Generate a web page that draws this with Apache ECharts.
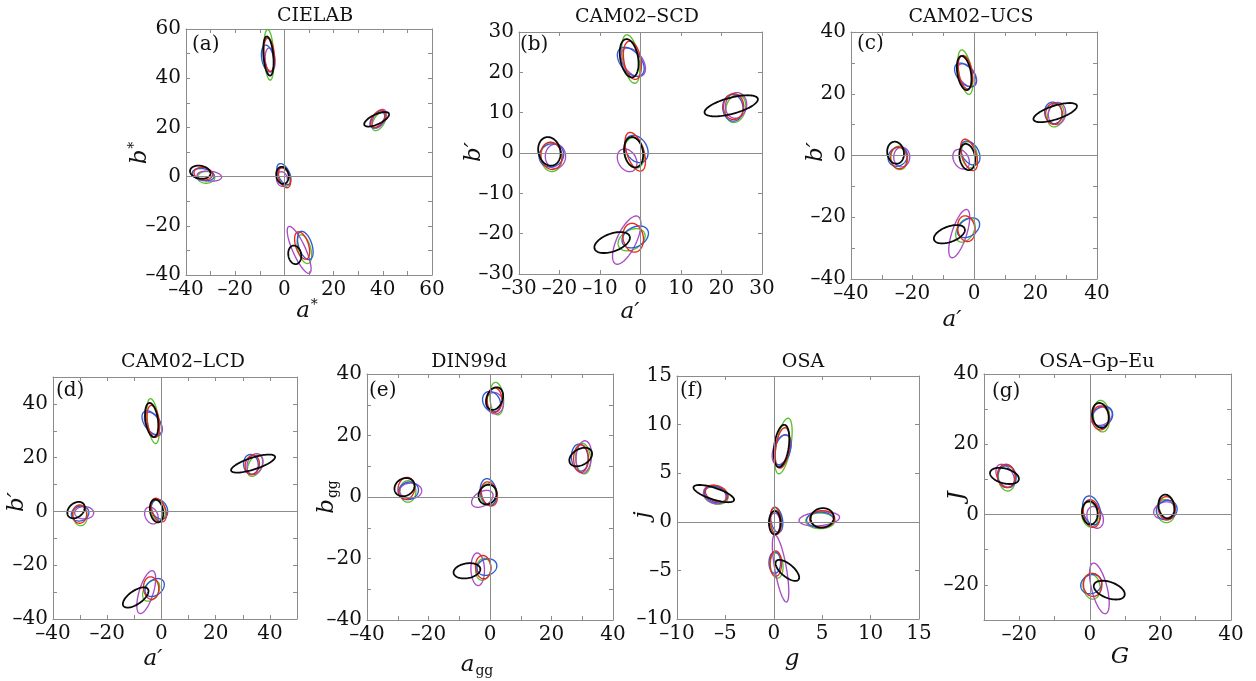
<!DOCTYPE html>
<html><head><meta charset="utf-8">
<script src="https://cdn.jsdelivr.net/npm/echarts@6/dist/echarts.min.js"></script>
<style>html,body{margin:0;padding:0;background:#fff}#c{width:1256px;height:681px}</style>
</head><body><div id="c"></div>
<script>
// Ellipse rows: [centre x, centre y, semi-major, semi-minor, angle of major axis in degrees]
// Colour groups: order of centres = top, right, left, middle, bottom
const a_black   = [[-6.5,49,8,2,95],[37.5,23.3,5.5,2.0,25],[-34.2,1.8,4.2,2.6,-10],[-0.8,0.5,3.5,2.5,100],[4.2,-31.8,3.8,2.6,100]];
const a_green   = [[-6.3,49.5,10.3,2,93],[38.5,22.5,4.2,2.2,60],[-31.8,-0.3,3.5,2.4,0],[0,0,4,2.2,105],[8.1,-29.5,6,2.6,105]];
const a_blue    = [[-6.8,48,5.5,2.4,100],[37.8,23,3.8,2.3,50],[-33,0.8,4.5,2.4,-10],[-0.2,1,4.6,2.3,115],[8.5,-28,6,2.7,108]];
const a_red     = [[-6.2,49.5,6.8,2.1,95],[38,23.5,4,2.2,55],[-33,1.2,3.8,2.5,-10],[0,-0.5,4.2,2.2,110],[7.2,-28,5.8,2.6,108]];
const a_magenta = [[-5.8,47.5,4.8,2.0,95],[38.5,23.5,4.2,2.3,60],[-30.5,0.2,5,2,-5],[-1,-1,3,2.2,100],[6,-29.8,10.4,2.6,114]];

const b_black   = [[-2.8,23.5,4.8,2.2,100],[22.4,11.7,6.8,2.0,15],[-22.5,0.4,3.6,2.7,105],[-1.7,0.2,3.8,2.3,100],[-7,-22.2,4.6,2.2,20]];
const b_green   = [[-2.4,23.3,6.1,2.0,100],[23.5,11,3.5,2.4,75],[-22,-1,3.6,2.6,95],[-1.5,0,3.8,2.4,100],[-2.2,-21.5,3.6,2.4,30]];
const b_blue    = [[-2.4,22.6,4.2,2.5,130],[22.8,11.2,3.3,2.5,95],[-22,-0.6,3.1,2.8,30],[-1,1,3.6,2.6,120],[-1.3,-20.8,3.5,2.4,30]];
const b_red     = [[-2,23,4.8,2.1,100],[23,11.5,3.2,2.5,90],[-22,-0.7,3.4,2.6,100],[-1.3,0.3,5,2.1,108],[-1.8,-21,3.6,2.5,100]];
const b_magenta = [[-1.8,22.5,4,2.4,125],[23.6,11.8,3.2,2.6,80],[-21,-0.8,3,2.5,90],[-3.3,-1.8,3,2.2,120],[-3.4,-21.6,6.5,2.4,65]];

const c_black   = [[-3.2,26.7,5.6,2.2,100],[26.4,13.9,7.4,2.2,18],[-25.5,0.9,3.6,2.7,100],[-2.2,-0.5,4.3,2.5,100],[-8,-25.5,5.3,2.5,20]];
const c_green   = [[-2.8,27,7.3,2.1,100],[26.6,13,3.8,2.6,75],[-24.3,-0.8,3.8,2.7,95],[-1.5,0.2,4.3,2.5,100],[-2.8,-24.2,4.2,2.7,60]];
const c_blue    = [[-2.8,26.1,4.5,2.6,130],[25.8,13.8,3.5,2.8,100],[-24.8,-0.4,3.3,2.9,40],[-1.2,0.8,4.2,2.7,120],[-1.8,-23.4,4,2.7,35]];
const c_red     = [[-2.8,27,5.5,2.2,100],[26,13.5,3.4,2.7,90],[-24.5,-0.8,3.5,2.7,100],[-1.6,0.2,5.3,2.3,108],[-2.5,-23.7,4.2,2.8,100]];
const c_magenta = [[-2.3,26,4.2,2.5,125],[27,13.6,3.6,2.8,80],[-23.5,-0.5,3.2,2.6,90],[-4.2,-1.2,3.4,2.4,120],[-4.8,-25.3,8.2,2.4,72]];

const d_black   = [[-3.6,34,6.4,2.3,98],[33.8,17.8,8.5,2.2,18],[-31.5,0.5,3.6,2.6,40],[-1.8,0.2,4.3,2.4,100],[-9.5,-32,5.5,2.5,35]];
const d_green   = [[-3.1,33.6,8.4,2.1,97],[34.5,17,4.2,2.4,65],[-30,-1.5,3.8,2.6,95],[-1.2,0.3,4,2.6,100],[-3.8,-29.5,4.2,2.7,60]];
const d_blue    = [[-3.5,33,5,2.8,125],[33,17.5,3.7,2.7,95],[-30,-0.8,3.3,2.7,20],[-0.7,0.8,3.8,2.8,115],[-2.5,-28.3,4,2.8,40]];
const d_red     = [[-3,33.5,6,2.2,98],[33.5,17.3,3.6,2.6,80],[-30.2,-1,3.4,2.6,90],[-1,0.5,4.6,2.5,110],[-3.8,-28.5,4.2,2.8,95]];
const d_magenta = [[-3,32.5,4.8,2.6,120],[34.5,17.6,4,2.8,70],[-28.5,-0.5,3.5,2.3,0],[-3.7,-1.5,3.3,2.3,115],[-5.6,-30,8.3,2.6,73]];

const e_black   = [[1.5,32,3.8,2.6,70],[29.5,13,4,2.6,30],[-27.8,3.2,3.4,2.8,30],[-0.8,0.8,3.3,2.8,60],[-7.5,-24,4.4,2.4,10]];
const e_green   = [[2.2,32,5.3,2.2,95],[30.3,12.5,5,2.4,95],[-26.7,1.8,3.5,2.6,90],[-0.5,0.8,3.5,2.6,100],[-2.2,-23.5,3.6,2.4,80]];
const e_blue    = [[0.5,31,3.5,2.7,120],[29.2,12.8,4.4,2.7,95],[-26.5,2,3.3,2.8,20],[-0.5,1.6,4.4,2.6,100],[-1,-22.8,3.3,2.6,20]];
const e_red     = [[1.5,31.5,4,2.4,90],[29.6,12.5,4.5,2.4,90],[-27.2,2.8,3.6,2.7,80],[-0.2,1,4,2.5,105],[-2.2,-22.8,3.8,2.5,95]];
const e_magenta = [[1.5,30.5,3.5,2.8,100],[30.5,13,5.3,2.5,85],[-25.8,2,3.6,2.5,0],[-2.5,-0.6,3.8,2.3,30],[-4,-23.5,5.3,2.2,92]];

const f_black   = [[0.8,7.8,2.2,0.75,82],[5,0.4,1.2,1.0,10],[-6.2,2.9,2.2,0.6,-18],[0.1,-0.1,1.2,0.6,90],[1.4,-5,1.5,0.65,-40]];
const f_green   = [[1,7.8,2.9,0.75,80],[4.8,0.1,1.5,0.8,0],[-6,2.7,1.3,0.85,-15],[0.2,0,1.2,0.6,90],[0.3,-4.5,1.3,0.65,95]];
const f_blue    = [[0.9,7.4,1.6,0.8,75],[4.8,0.2,1.4,0.8,0],[-6,2.8,1.2,0.8,-20],[0.3,0.2,1.3,0.6,100],[0.1,-4.2,1.1,0.6,90]];
const f_red     = [[0.9,7.6,2.1,0.7,82],[5,0.3,1.3,0.85,0],[-5.9,2.9,1.2,0.8,-20],[0.2,0.1,1.4,0.55,95],[0.2,-4.3,1.3,0.6,90]];
const f_magenta = [[0.8,7.4,1.6,0.85,70],[4.7,0.3,2.1,0.7,5],[-6.1,2.8,1.2,0.9,-25],[0.1,-0.2,1.1,0.55,90],[0.7,-4.8,3.5,0.6,100]];

const g_black   = [[3,28.2,3.6,2.3,100],[21.7,2.3,3.4,2.2,100],[-24.2,11,4.2,2.1,-15],[0,0.5,3.3,2.2,95],[5.5,-21.5,4.6,2.3,-20]];
const g_green   = [[3.3,28,4.5,2.3,95],[21.5,1,3.3,2.6,100],[-23.5,10.5,3.8,2.4,95],[0,0,3.6,2.3,100],[0.5,-20.5,3.6,2.4,100]];
const g_blue    = [[3.6,28,3.1,2.6,45],[21.8,1.3,3,2.7,30],[-23.5,10.8,3.1,2.6,100],[0.5,1.2,4.2,2.4,105],[0.4,-19.8,3.1,2.6,30]];
const g_red     = [[3,27.5,3.4,2.4,90],[21.8,1.8,3.3,2.4,95],[-23.7,11,3.3,2.5,95],[0.5,0.3,4,2.3,100],[0.8,-20,3.3,2.6,95]];
const g_magenta = [[3.3,28,3.2,2.4,30],[21.2,1.2,3.2,2.3,20],[-24,11,3.6,2.2,120],[1.5,-0.8,3.2,2.2,110],[2.7,-21,7.4,2.2,104]];

// Titles, tags and axis ranges
const titles = ['CIELAB','CAM02\u2013SCD','CAM02\u2013UCS','CAM02\u2013LCD','DIN99d','OSA','OSA\u2013Gp\u2013Eu'];
const tags   = ['(a)','(b)','(c)','(d)','(e)','(f)','(g)'];
const xRanges = [[-40,60],[-30,30],[-40,40],[-40,50],[-40,40],[-10,15],[-30,40]];
const yRanges = [[-40,60],[-30,30],[-40,40],[-40,50],[-40,40],[-10,15],[-30,40]];
const tickSteps  = [10,10,10,10,10,5,10];
const labelSteps = [20,10,20,20,20,5,20];

const panelData = [
  {black:a_black,green:a_green,blue:a_blue,red:a_red,magenta:a_magenta},
  {black:b_black,green:b_green,blue:b_blue,red:b_red,magenta:b_magenta},
  {black:c_black,green:c_green,blue:c_blue,red:c_red,magenta:c_magenta},
  {black:d_black,green:d_green,blue:d_blue,red:d_red,magenta:d_magenta},
  {black:e_black,green:e_green,blue:e_blue,red:e_red,magenta:e_magenta},
  {black:f_black,green:f_green,blue:f_blue,red:f_red,magenta:f_magenta},
  {black:g_black,green:g_green,blue:g_blue,red:g_red,magenta:g_magenta}
];

// ---------- layout / style ----------
const FONT = '"DejaVu Serif","Liberation Serif",serif';
const AXC = '#8c8c8c';
const COLORS = {green:'#5cbf2e', magenta:'#a84cc6', blue:'#2a5bd7', red:'#e8281c', black:'#0a0a0a'};
const ORDER = ['green','magenta','blue','red','black'];
const boxes = [[186,29,246,246],[519,32,243,242],[851,32,246,247],[53,377,244,242],[367,374,246,246],[677,376,242,243],[984,374,247,246]];
const titlePos = [[315,16],[637,17],[971,17],[183,362],[469,362],[803,362],[1097,362]];
const tagPos = [[192,45],[520,45],[857,44],[56,391],[369,391],[680,391],[992,392]];
const xNames = [
  {t:'{i|a}{s|*}', p:[307,311]}, {t:'{i|a\u2032}', p:[630,312]}, {t:'{i|a\u2032}', p:[952,320]},
  {t:'{i|a\u2032}', p:[153,659]}, {t:'{i|a}{sub|gg}', p:[477,665]}, {t:'{i|g}', p:[792,659]}, {t:'{i|G}', p:[1120,657]}
];
const yNames = [
  {t:'{i|b}{s|*}', p:[140,153]}, {t:'{i|b\u2032}', p:[474,152]}, {t:'{i|b\u2032}', p:[816,152]},
  {t:'{i|b\u2032}', p:[17,502]}, {t:'{i|b}{sub|gg}', p:[327,497]}, {t:'{i|j}', p:[643,515]}, {t:'{i|J}', p:[957,496]}
];
const richStyles = {
  i:{fontFamily:FONT, fontStyle:'italic', fontSize:23, fill:'#111', color:'#111'},
  s:{fontFamily:FONT, fontSize:14, fill:'#111', color:'#111', padding:[0,0,12,1]},
  sub:{fontFamily:FONT, fontSize:14, fill:'#111', color:'#111', padding:[12,0,0,1]}
};

function fmt(step){
  return function(v){
    const r = Math.round(v);
    if (Math.abs(r) % step !== 0) return '';
    return r < 0 ? '\u2013' + Math.abs(r) : String(r);
  };
}

function ellipseRenderer(color, lw){
  return function(params, api){
    const cx = api.value(0), cy = api.value(1), a = api.value(2), b = api.value(3);
    const th = api.value(4) * Math.PI / 180;
    const pts = [];
    const N = 90;
    for (let k = 0; k <= N; k++){
      const t = k / N * 2 * Math.PI;
      const x = cx + a*Math.cos(t)*Math.cos(th) - b*Math.sin(t)*Math.sin(th);
      const y = cy + a*Math.cos(t)*Math.sin(th) + b*Math.sin(t)*Math.cos(th);
      pts.push(api.coord([x, y]));
    }
    return {type:'polyline', shape:{points:pts}, style:{fill:null, stroke:color, lineWidth:lw}};
  };
}

const grid = [], xAxis = [], yAxis = [], series = [], graphic = [];
boxes.forEach(function(bx, i){
  grid.push({left:bx[0], top:bx[1], width:bx[2], height:bx[3], show:false, containLabel:false});
  const common = function(rng, pos, labels){
    return {
      type:'value', gridIndex:i, position:pos, min:rng[0], max:rng[1], interval:tickSteps[i],
      axisLine:{show:true, onZero:false, lineStyle:{color:AXC, width:1}},
      axisTick:{show:true, inside:true, length:4, lineStyle:{color:AXC}},
      splitLine:{show:false},
      axisLabel:labels ? {show:true, margin:5, fontFamily:FONT, fontSize:20, color:'#111',
        showMinLabel:true, showMaxLabel:true, hideOverlap:false, formatter:fmt(labelSteps[i])} : {show:false}
    };
  };
  xAxis.push(common(xRanges[i], 'bottom', true));
  xAxis.push(common(xRanges[i], 'top', false));
  yAxis.push(common(yRanges[i], 'left', true));
  yAxis.push(common(yRanges[i], 'right', false));

  ORDER.forEach(function(col, k){
    const s = {
      type:'custom', name:col, xAxisIndex:2*i, yAxisIndex:2*i,
      renderItem: ellipseRenderer(COLORS[col], col === 'black' ? 1.8 : 1.35),
      encode:{x:0, y:1}, data:panelData[i][col], silent:true, animation:false
    };
    if (k === 0){
      s.markLine = {silent:true, symbol:['none','none'], label:{show:false}, animation:false,
        lineStyle:{color:AXC, type:'solid', width:1}, data:[{xAxis:0},{yAxis:0}]};
    }
    series.push(s);
  });

  graphic.push({type:'text', x:titlePos[i][0], y:titlePos[i][1], style:{text:titles[i], font:'19px ' + FONT, fill:'#111', align:'center', verticalAlign:'middle'}});
  graphic.push({type:'text', x:tagPos[i][0], y:tagPos[i][1], style:{text:tags[i], font:'20px ' + FONT, fill:'#111', align:'left', verticalAlign:'middle'}});
  graphic.push({type:'text', x:xNames[i].p[0], y:xNames[i].p[1], style:{text:xNames[i].t, rich:richStyles, align:'center', verticalAlign:'middle'}});
  graphic.push({type:'text', x:yNames[i].p[0], y:yNames[i].p[1], rotation:Math.PI/2, style:{text:yNames[i].t, rich:richStyles, align:'center', verticalAlign:'middle'}});
});

const chart = echarts.init(document.getElementById('c'), null, {renderer:'canvas'});
chart.setOption({animation:false, backgroundColor:'#fff', grid:grid, xAxis:xAxis, yAxis:yAxis, series:series, graphic:graphic});
</script></body></html>
